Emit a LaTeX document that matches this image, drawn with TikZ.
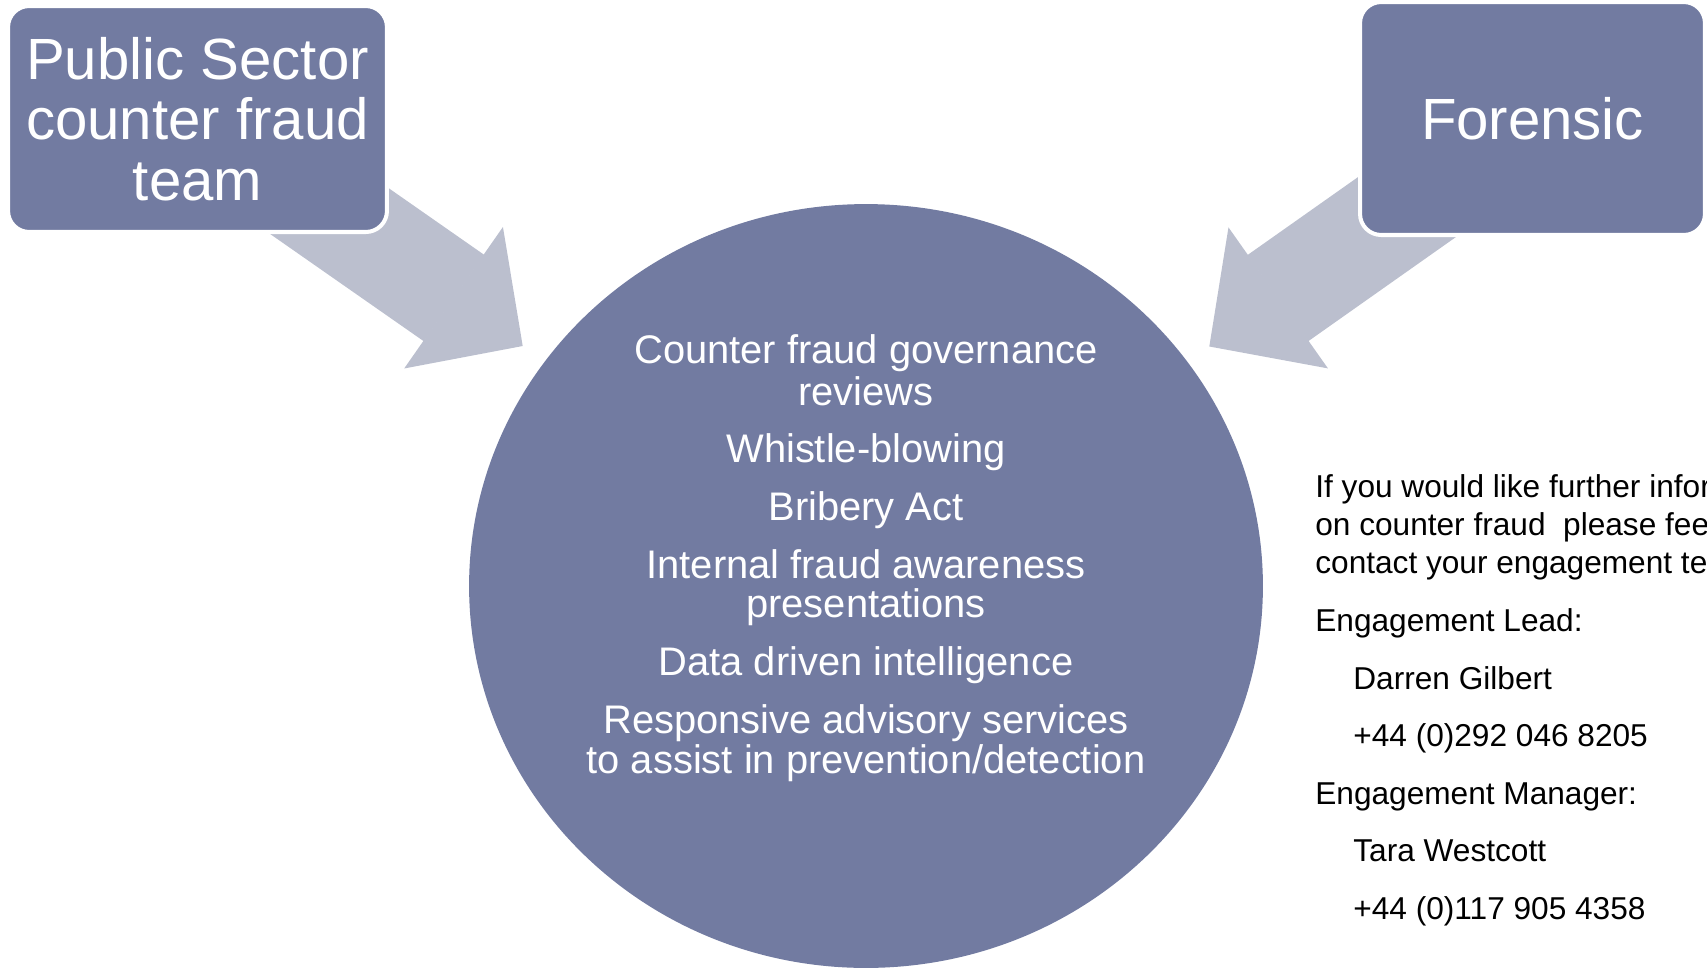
\documentclass[tikz,border=0pt]{standalone}
\usepackage{fontspec}
\setmainfont{Liberation Sans}
\usetikzlibrary{arrows.meta,shapes.geometric}
\definecolor{slateblue}{RGB}{114,123,161}
\definecolor{arrowgrey}{RGB}{187,191,206}

\tikzset{
  teambox/.style={draw=white, line width=2.3pt, fill=slateblue, rounded corners=12pt,
    text=white, align=center, font=\fontsize{33.1}{34.6}\selectfont},
  feedarrow/.style={draw=arrowgrey, line width=60pt,
    -{Triangle[length=48pt, width=98pt, line width=1.2pt]}},
  itemline/.style={text=white, anchor=base, inner sep=0pt, font=\fontsize{22.7}{22.9}\selectfont},
  contactline/.style={text=black, anchor=base west, inner sep=0pt, font=\fontsize{18}{21.6}\selectfont},
}

\begin{document}
\begin{tikzpicture}[line cap=butt,line join=round,x=0.02cm,y=-0.02cm]
  \useasboundingbox (0,0) rectangle (1707,971);
  \clip (0,0) rectangle (1707,971);

  % where the two block arrows end
  \coordinate (lefttip) at (522.7,346);
  \coordinate (righttip) at (1209.3,346.5);

  % the two boxes, drawn first only to have names
  \path (197.5,119) coordinate (pubc);
  \path (1532.5,118.5) coordinate (forc);
  \draw[feedarrow] (pubc) -- (lefttip);
  \draw[feedarrow] (forc) -- (righttip);

  \node (pubbox) [teambox, minimum width=7.58cm, minimum height=4.52cm] at (pubc)
    {Public Sector\\counter fraud\\team};
  \node (forbox) [teambox, minimum width=6.9cm, minimum height=4.66cm] at (forc)
    {Forensic};

  % centre circle
  \node (core) [ellipse, fill=slateblue, inner sep=0pt, minimum width=15.88cm, minimum height=15.28cm]
    at (866,586) {};

  \node (it1a) [itemline] at (866,363.5) {Counter fraud governance};
  \node (it1b) [itemline] at (866,405) {reviews};
  \node (it2) [itemline] at (866,462) {Whistle-blowing};
  \node (it3) [itemline] at (866,520) {Bribery Act};
  \node (it4a) [itemline] at (866,578) {Internal fraud awareness};
  \node (it4b) [itemline] at (866,617.5) {presentations};
  \node (it5) [itemline] at (866,675.5) {Data driven intelligence};
  \node (it6a) [itemline] at (866,733) {Responsive advisory services};
  \node (it6b) [itemline] at (866,773.5) {to assist in prevention/detection};

  % contact text on the right
  \node (ct1) [contactline] at (1315,497) {If you would like further information};
  \node (ct2) [contactline] at (1315,535) {on counter fraud\ \ please feel free to};
  \node (ct3) [contactline] at (1315,573) {contact your engagement team};
  \node (ct4) [contactline] at (1315,631) {Engagement Lead:};
  \node (ct5) [contactline] at (1353,689) {Darren Gilbert};
  \node (ct6) [contactline] at (1353,746.5) {+44 (0)292 046 8205};
  \node (ct7) [contactline] at (1315,804) {Engagement Manager:};
  \node (ct8) [contactline] at (1353,861.5) {Tara Westcott};
  \node (ct9) [contactline] at (1353,919) {+44 (0)117 905 4358};
\end{tikzpicture}
\end{document}
